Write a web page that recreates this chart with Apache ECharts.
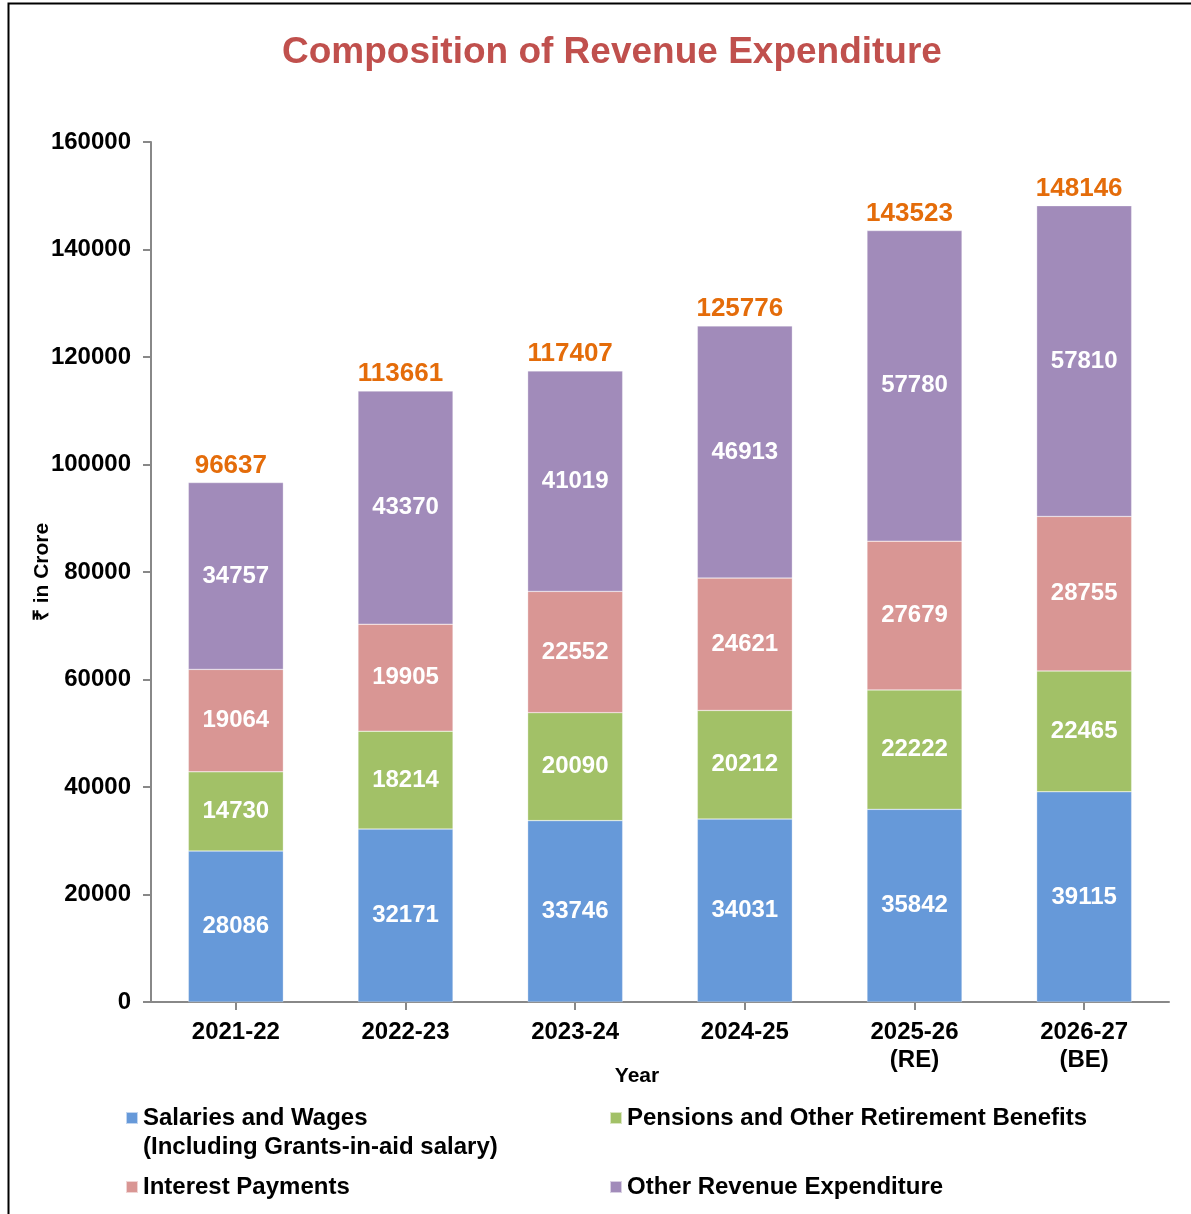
<!DOCTYPE html>
<html><head><meta charset="utf-8">
<script src="https://cdn.jsdelivr.net/npm/echarts@6/dist/echarts.min.js"></script>
<style>html,body{margin:0;padding:0;background:#fff}#c{width:1191px;height:1214px}</style>
</head><body><div id="c"></div>
<script>
const categories = ['2021-22','2022-23','2023-24','2024-25','2025-26\n(RE)','2026-27\n(BE)'];
const salaries = [28086, 32171, 33746, 34031, 35842, 39115];
const pensions = [14730, 18214, 20090, 20212, 22222, 22465];
const interest = [19064, 19905, 22552, 24621, 27679, 28755];
const other = [34757, 43370, 41019, 46913, 57780, 57810];
const totals = [96637, 113661, 117407, 125776, 143523, 148146];
const yTicks = [0, 20000, 40000, 60000, 80000, 100000, 120000, 140000, 160000];
const seriesNames = ['Salaries and Wages', 'Pensions and Other Retirement Benefits', 'Interest Payments', 'Other Revenue Expenditure'];

const F = 'Liberation Sans, Arial, sans-serif';
const chart = echarts.init(document.getElementById('c'));
const inLabel = {show:true, position:'inside', color:'#fff', fontWeight:'bold', fontSize:24, fontFamily:F};
function seg(name, data, color){
  return {name, type:'bar', stack:'s', data, barWidth:95,
    itemStyle:{color, borderColor:'rgba(255,255,255,0.6)', borderWidth:0.5}, label:inLabel};
}
const legendBase = {orient:'vertical', itemWidth:12, itemHeight:12, itemGap:10,
  textStyle:{fontSize:24, fontWeight:'bold', fontFamily:F, color:'#000'}, icon:'rect', selectedMode:false};
chart.setOption({
  animation:false,
  backgroundColor:'#fff',
  title:{text:'Composition of Revenue Expenditure', left:607, top:29, textAlign:'center',
    textStyle:{color:'#C0504D', fontSize:37, fontWeight:'bold', fontFamily:F}},
  graphic:[
    {type:'rect', shape:{x:8.5, y:3.5, width:1300, height:1300}, style:{fill:null, stroke:'#000', lineWidth:2}, silent:true},
    {type:'text', left:143, top:1135, style:{text:'(Including Grants-in-aid salary)', fontSize:24, fontWeight:'bold', fontFamily:F, fill:'#000'}}
  ],
  grid:{left:151, right:22, top:142, bottom:212, containLabel:false},
  legend:[
    Object.assign({}, legendBase, {left:120, top:1101, data:[seriesNames[0]]}),
    Object.assign({}, legendBase, {left:604, top:1101, data:[seriesNames[1]]}),
    Object.assign({}, legendBase, {left:120, top:1170, data:[seriesNames[2]]}),
    Object.assign({}, legendBase, {left:604, top:1170, data:[seriesNames[3]]})
  ],
  xAxis:{type:'category', data:categories, name:'Year', nameLocation:'middle', nameGap:64, nameMoveOverlap:false,
    nameTextStyle:{fontSize:21, fontWeight:'bold', fontFamily:F, color:'#000', padding:[0,0,0,-46]},
    axisLine:{lineStyle:{color:'#888', width:2}}, axisTick:{show:true, alignWithLabel:true, length:8, lineStyle:{color:'#888', width:2}},
    axisLabel:{fontSize:24, fontWeight:'bold', fontFamily:F, color:'#000', margin:16, lineHeight:28}},
  yAxis:{type:'value', min:0, max:160000, interval:20000, name:'₹ in Crore', nameLocation:'middle', nameGap:98, nameMoveOverlap:false,
    nameTextStyle:{fontSize:21, fontWeight:'bold', fontFamily:F, color:'#000'},
    splitLine:{show:false},
    axisLine:{show:true, lineStyle:{color:'#888', width:2}}, axisTick:{show:true, length:8, lineStyle:{color:'#888', width:2}},
    axisLabel:{fontSize:24, fontWeight:'bold', fontFamily:F, color:'#000', margin:20,
      formatter:v=> yTicks.includes(v) ? String(v) : ''}},
  series:[
    seg(seriesNames[0], salaries, '#6699D9'),
    seg(seriesNames[1], pensions, '#A2C167'),
    seg(seriesNames[2], interest, '#D99694'),
    seg(seriesNames[3], other, '#A18BBA'),
    {name:'Total', type:'bar', stack:'s', data:totals.map(()=>0), barWidth:95,
      itemStyle:{color:'transparent'},
      label:{show:true, position:'top', distance:4, offset:[-5,0], color:'#E46C0A', fontWeight:'bold', fontSize:26, fontFamily:F,
        formatter:p=>String(totals[p.dataIndex])}}
  ]
});
</script></body></html>
